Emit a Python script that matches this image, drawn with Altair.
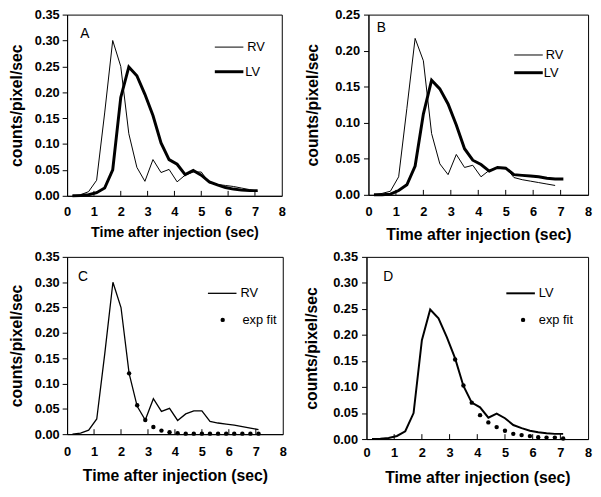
import altair as alt
import pandas as pd

# ---------------- data ----------------
TIME = [0.2, 0.5, 0.8, 1.1, 1.4, 1.7, 2.0, 2.3, 2.6, 2.9, 3.2, 3.5,
        3.8, 4.1, 4.4, 4.7, 5.0, 5.3, 5.6, 5.9, 6.2, 6.5, 6.8, 7.1]

RV_1 = [0.0, 0.002, 0.008, 0.03, 0.16, 0.30, 0.25, 0.12, 0.055, 0.028, 0.07, 0.045,
        0.051, 0.027, 0.04, 0.046, 0.046, 0.025, 0.022, 0.02, 0.018, 0.015, 0.012, 0.009]
LV_1 = [0.0, 0.0005, 0.002, 0.006, 0.015, 0.05, 0.19, 0.249, 0.232, 0.196, 0.155, 0.102,
        0.07, 0.061, 0.041, 0.049, 0.04, 0.027, 0.021, 0.016, 0.013, 0.011, 0.01, 0.01]

RV_2 = [0.0, 0.002, 0.005, 0.025, 0.12, 0.217, 0.186, 0.085, 0.043, 0.028, 0.056, 0.038,
        0.041, 0.025, 0.034, 0.038, 0.038, 0.024, 0.021, 0.019, 0.017, 0.015, 0.013]
LV_2 = [0.0, 0.0, 0.001, 0.006, 0.014, 0.04, 0.112, 0.159, 0.147, 0.126, 0.097, 0.064,
        0.048, 0.042, 0.033, 0.038, 0.037, 0.028, 0.027, 0.026, 0.025, 0.023, 0.022, 0.022]

FIT_C_TIME = [2.3, 2.6, 2.9, 3.2, 3.5, 3.8, 4.1, 4.4, 4.7, 5.0, 5.3, 5.6, 5.9, 6.2, 6.5, 6.8, 7.1]
FIT_C = [0.12, 0.057, 0.028, 0.014, 0.007, 0.004, 0.002, 0.001, 0.001, 0.001, 0.001,
         0.001, 0.001, 0.001, 0.001, 0.001, 0.001]

FIT_D_TIME = [3.2, 3.5, 3.8, 4.1, 4.4, 4.7, 5.0, 5.3, 5.6, 5.9, 6.2, 6.5, 6.8, 7.1]
FIT_D = [0.153, 0.103, 0.07, 0.046, 0.032, 0.023, 0.016, 0.01, 0.0076, 0.0057, 0.0035,
         0.0028, 0.0028, 0.0012]

X_LABELS = [0, 1, 2, 3, 4, 5, 6, 7, 8]
X_INNER_TICKS = [1, 2, 3, 4, 5, 6, 7]
Y_TICKS_035 = [0.0, 0.05, 0.10, 0.15, 0.20, 0.25, 0.30, 0.35]
Y_TICKS_025 = [0.0, 0.05, 0.10, 0.15, 0.20, 0.25]

X_TITLE = "Time after injection (sec)"
Y_TITLE = "counts/pixel/sec"
FONT = "Liberation Sans"


def series_df(times, values):
    return pd.DataFrame({"t": times[:len(values)], "v": values})


def value_chart():
    return alt.Chart(pd.DataFrame({"a": [0]}))


def panel(lines, fits, ymax, yticks, w, h, letter, letter_xy, legend,
          xtitle_size, xlabel_pad, xtitle_pad, ytitle_pad, ylabel_pad):
    xscale = alt.Scale(domain=[0, 8], nice=False, zero=False)
    yscale = alt.Scale(domain=[0, ymax], nice=False)
    xaxis = alt.Axis(values=X_LABELS, ticks=False, labelPadding=xlabel_pad, title=X_TITLE,
                     titleFontSize=xtitle_size, titlePadding=xtitle_pad, format="d",
                     labelFlush=False)
    yaxis = alt.Axis(values=yticks, format=".2f", tickSize=5, labelPadding=ylabel_pad,
                     title=Y_TITLE, titlePadding=ytitle_pad, labelFlush=False)

    def xe():
        return alt.X("t:Q", scale=xscale, axis=xaxis)

    def ye():
        return alt.Y("v:Q", scale=yscale, axis=yaxis)

    layers = []
    for vals, sw in lines:
        layers.append(alt.Chart(series_df(TIME, vals)).mark_line(color="black", strokeWidth=sw)
                      .encode(x=xe(), y=ye()))
    if fits is not None:
        ft, fv = fits
        layers.append(alt.Chart(series_df(ft, fv)).mark_circle(color="black", size=20, opacity=1)
                      .encode(x=xe(), y=ye()))
    # inward x ticks
    layers.append(alt.Chart(pd.DataFrame({"t": X_INNER_TICKS})).mark_rule(color="black", strokeWidth=1)
                  .encode(x=xe(), y=alt.value(h), y2=alt.value(h - 5)))
    # panel letter
    layers.append(value_chart().mark_text(font=FONT, fontSize=14, color="black", align="center",
                                          baseline="middle")
                  .encode(x=alt.value(letter_xy[0]), y=alt.value(letter_xy[1]),
                          text=alt.value(letter)))
    # legend
    for item in legend:
        kind, label, sx, sy, tx = item[:5]
        if kind == "line":
            layers.append(value_chart().mark_rule(color="black", strokeWidth=item[5])
                          .encode(x=alt.value(sx), x2=alt.value(sx + 29), y=alt.value(sy)))
        else:
            layers.append(value_chart().mark_circle(color="black", size=20, opacity=1)
                          .encode(x=alt.value(sx), y=alt.value(sy)))
        layers.append(value_chart().mark_text(font=FONT, fontSize=13, color="black", align="left",
                                              baseline="middle")
                      .encode(x=alt.value(tx), y=alt.value(sy), text=alt.value(label)))
    return alt.layer(*layers).properties(width=w, height=h)


pA = panel([(RV_1, 1), (LV_1, 3)], None, 0.35, Y_TICKS_035, 218, 184, "A", (18, 20),
           [("line", "RV", 150, 33, 183, 1), ("line", "LV", 150, 58, 181, 3)],
           14.5, 10, 7, 10, 3)
pB = panel([(RV_2, 1), (LV_2, 3)], None, 0.25, Y_TICKS_025, 223, 183, "B", (13, 14),
           [("line", "RV", 148, 41, 180, 1), ("line", "LV", 148, 59, 178, 3)],
           16, 11, 8, 14, 4)
pC = panel([(RV_1, 1.3)], (FIT_C_TIME, FIT_C), 0.35, Y_TICKS_035, 219, 180, "C", (16, 20),
           [("line", "RV", 143, 37, 176, 1.3), ("dot", "exp fit", 158, 64, 178)],
           16, 12, 9, 10, 3)
pD = panel([(LV_1, 2)], (FIT_D_TIME, FIT_D), 0.35, Y_TICKS_035, 225, 185, "D", (22, 20),
           [("line", "LV", 142, 37, 175, 2), ("dot", "exp fit", 159, 64, 175)],
           16, 8, 10, 13, 4)

row1 = alt.hconcat(pA, pB, spacing=18)
row2 = alt.hconcat(pC, pD, spacing=16)

chart = alt.vconcat(row1, row2, spacing=7).properties(
    padding={"left": 0, "top": -4, "right": 0, "bottom": 0}
).configure_view(
    stroke="black", strokeWidth=1
).configure_axis(
    grid=False, domainColor="black", tickColor="black", labelColor="black",
    titleColor="black", labelFont=FONT, labelFontWeight="bold", labelFontSize=13,
    titleFont=FONT, titleFontWeight="bold", titleFontSize=16, domainWidth=1, tickWidth=1
)

chart.save("out.html", embed_options={"renderer": "svg", "actions": False})
